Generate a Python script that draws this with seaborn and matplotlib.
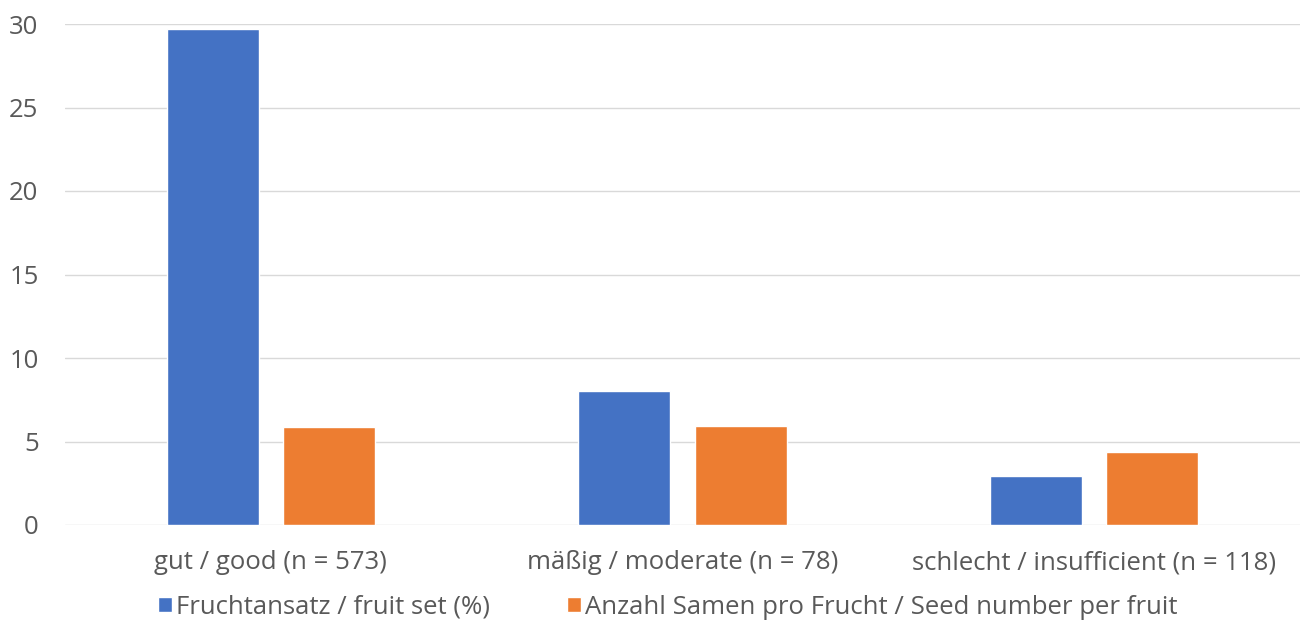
import pandas as pd
import matplotlib.pyplot as plt
import seaborn as sns

# data
categories = ["gut / good (n = 573)",
              "mäßig / moderate (n = 78)",
              "schlecht / insufficient (n = 118)"]
fruit_set = [29.7, 8.0, 2.95]
seed_number = [5.85, 5.95, 4.4]
series_names = ["Fruchtansatz / fruit set (%)",
                "Anzahl Samen pro Frucht / Seed number per fruit"]

df = pd.DataFrame({
    "category": categories * 2,
    "value": fruit_set + seed_number,
    "series": [series_names[0]] * 3 + [series_names[1]] * 3,
})

sns.set_style("white")
plt.rcParams['font.family'] = ['Open Sans', 'DejaVu Sans']
text_color = "#595959"

figure, ax = plt.subplots(figsize=(13.05, 6.37), dpi=100)
figure.subplots_adjust(left=65 / 1305, right=1300 / 1305,
                       top=1 - 24 / 637, bottom=1 - 525 / 637)

sns.barplot(data=df, x="category", y="value", hue="series",
            palette=["#4472C4", "#ED7D31"], saturation=1,
            width=0.566, gap=0.21, ax=ax)

ax.set_ylim(0, 30)
ax.set_yticks([0, 5, 10, 15, 20, 25, 30])
ax.yaxis.grid(True, color="#d9d9d9", linewidth=1)
ax.set_axisbelow(True)
sns.despine(ax=ax, left=True, bottom=True, top=True, right=True)
ax.set_xlabel("")
ax.set_ylabel("")
ax.tick_params(axis="both", length=0, labelsize=18.5, colors=text_color)
ax.tick_params(axis="x", pad=18)
ax.tick_params(axis="y", pad=19)

ax.legend_.remove()
handles, labels = ax.get_legend_handles_labels()
figure.legend(handles, labels, loc="center", ncol=2, frameon=False,
              bbox_to_anchor=(668 / 1305, 1 - 607 / 637),
              fontsize=18.5, labelcolor=text_color,
              handlelength=0.55, handleheight=0.55, handletextpad=0.15,
              columnspacing=3.0)

plt.savefig("out.png", dpi=100)
